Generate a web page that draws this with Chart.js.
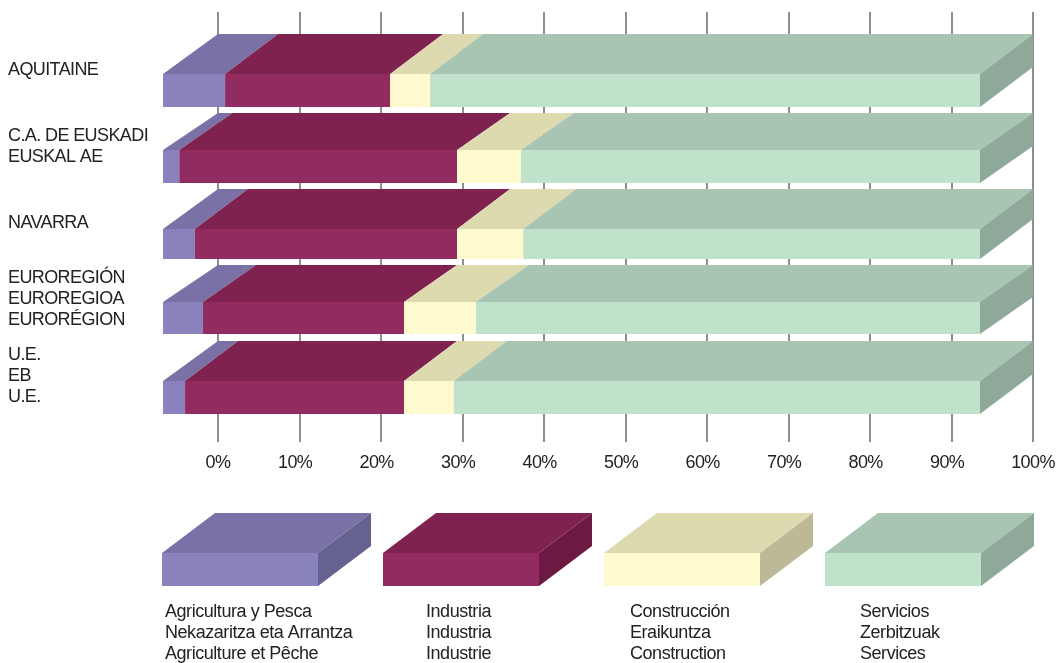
<!DOCTYPE html>
<html><head><meta charset="utf-8">
<style>html,body{margin:0;padding:0;background:#fff}canvas{display:block}</style>
<script src="https://cdn.jsdelivr.net/npm/chart.js@4"></script>
</head><body><canvas id="c" width="1056" height="663"></canvas>
<script>
const categories=[["AQUITAINE"],["C.A. DE EUSKADI","EUSKAL AE"],["NAVARRA"],["EUROREGIÓN","EUROREGIOA","EURORÉGION"],["U.E.","EB","U.E."]];
const agricultura=[7.6,2.0,3.9,4.9,2.7];
const industria=[20.2,34.0,32.1,24.6,26.8];
const construccion=[4.9,7.8,8.1,8.8,6.1];
const servicios=[67.3,56.2,55.9,61.7,64.4];
const tickValues=[0,10,20,30,40,50,60,70,80,90,100];
const seriesLabels=[
 ["Agricultura y Pesca","Nekazaritza eta Arrantza","Agriculture et Pêche"],
 ["Industria","Industria","Industrie"],
 ["Construcción","Eraikuntza","Construction"],
 ["Servicios","Zerbitzuak","Services"]];
const frontColors=["#8A82BC","#922C60","#FEF9CE","#C1E2CA"];
const topColors=["#7A72A6","#80224F","#DEDAB0","#A8C5B3"];
const sideColors=["#66628F","#6C1A42","#BDB997","#8EA99A"];
// per-row style of the pseudo-3D: drop from the row centre, front height, depth
const rowDrop=[20.5,20,21,18.5,21.5];
const rowHeight=[33,33,30,32,33];
const rowDepth=[40,37,40,37,40];
const FONT="'Liberation Sans'";
function poly(ctx,pts,fill){ctx.fillStyle=fill;ctx.beginPath();pts.forEach((p,i)=>i?ctx.lineTo(p[0],p[1]):ctx.moveTo(p[0],p[1]));ctx.closePath();ctx.fill();}
function box(ctx,x0,x1,ft,h,d,dx0,dx1,i,side){
 poly(ctx,[[x0,ft],[x1,ft],[x1+dx1,ft-d],[x0+dx0,ft-d]],topColors[i]);
 if(side)poly(ctx,[[x1,ft],[x1+dx1,ft-d],[x1+dx1,ft-d+h],[x1,ft+h]],sideColors[i]);
 ctx.fillStyle=frontColors[i];ctx.fillRect(x0,ft,x1-x0,h);
}
const plugin3d={id:'plugin3d',
 beforeDraw(chart){chart.ctx.letterSpacing="-0.6px";},
 beforeDatasetsDraw(chart){
  const {ctx,scales:{x}}=chart;
  ctx.save();
  // value gridlines, running behind the bars
  ctx.strokeStyle="#444";ctx.lineWidth=1.2;
  tickValues.forEach(v=>{const p=Math.round(x.getPixelForValue(v));ctx.beginPath();ctx.moveTo(p,12);ctx.lineTo(p,442);ctx.stroke();});
  const frontShift=p=>55-(p-x.left)/(x.right-x.left)*2;
  chart.data.datasets.forEach((ds,i)=>{
   const meta=chart.getDatasetMeta(i);
   meta.data.forEach((bar,r)=>{
    const {x:end,base,y}=bar.getProps(['x','base','y'],false);
    const x0=base-frontShift(base),x1=end-frontShift(end);
    const h=rowHeight[r],ft=y+rowDrop[r]-h/2;
    box(ctx,x0,x1,ft,h,rowDepth[r],i===0?55:53,53,i,i===chart.data.datasets.length-1);
   });
  });
  ctx.restore();
  return false;
 },
 afterDraw(chart){
  const ctx=chart.ctx;ctx.save();
  ctx.letterSpacing="-0.45px";
  const sx=[162,383,604,825],tx=[165,426,630,860];
  seriesLabels.forEach((lines,i)=>{
   box(ctx,sx[i],sx[i]+156,553,33,40,53,53,i,true);
   ctx.fillStyle="#222";ctx.font="18px "+FONT;ctx.textAlign="left";ctx.textBaseline="middle";
   lines.forEach((t,k)=>ctx.fillText(t,tx[i],612+k*21));
  });
  ctx.restore();
 }};
new Chart(document.getElementById('c'),{
 type:'bar',
 data:{labels:categories,datasets:[
  {label:seriesLabels[0][0],data:agricultura,backgroundColor:frontColors[0]},
  {label:seriesLabels[1][0],data:industria,backgroundColor:frontColors[1]},
  {label:seriesLabels[2][0],data:construccion,backgroundColor:frontColors[2]},
  {label:seriesLabels[3][0],data:servicios,backgroundColor:frontColors[3]}]},
 plugins:[plugin3d],
 options:{indexAxis:'y',responsive:false,animation:false,
  layout:{autoPadding:false,padding:{left:8,right:23,top:31.75,bottom:188.75}},
  plugins:{legend:{display:false},tooltip:{enabled:false}},
  scales:{
   x:{stacked:true,min:0,max:100,border:{display:false},grid:{display:false,drawTicks:false},
    afterBuildTicks(s){s.ticks=tickValues.map(v=>({value:v}));},
    afterFit(s){s.height=60;s.paddingLeft=0;s.paddingRight=0;},
    ticks:{padding:38,maxRotation:0,autoSkip:false,color:"#222",font:{family:FONT,size:18},
     callback:v=>(v===0||v===100)?v+"%":v+"%  "}},
   y:{stacked:true,border:{display:false},grid:{display:false,drawTicks:false},
    afterFit(s){s.width=210;},
    ticks:{crossAlign:'far',padding:0,autoSkip:false,color:"#222",font:{family:FONT,size:18,lineHeight:21/18}}}
  }}});
</script></body></html>
